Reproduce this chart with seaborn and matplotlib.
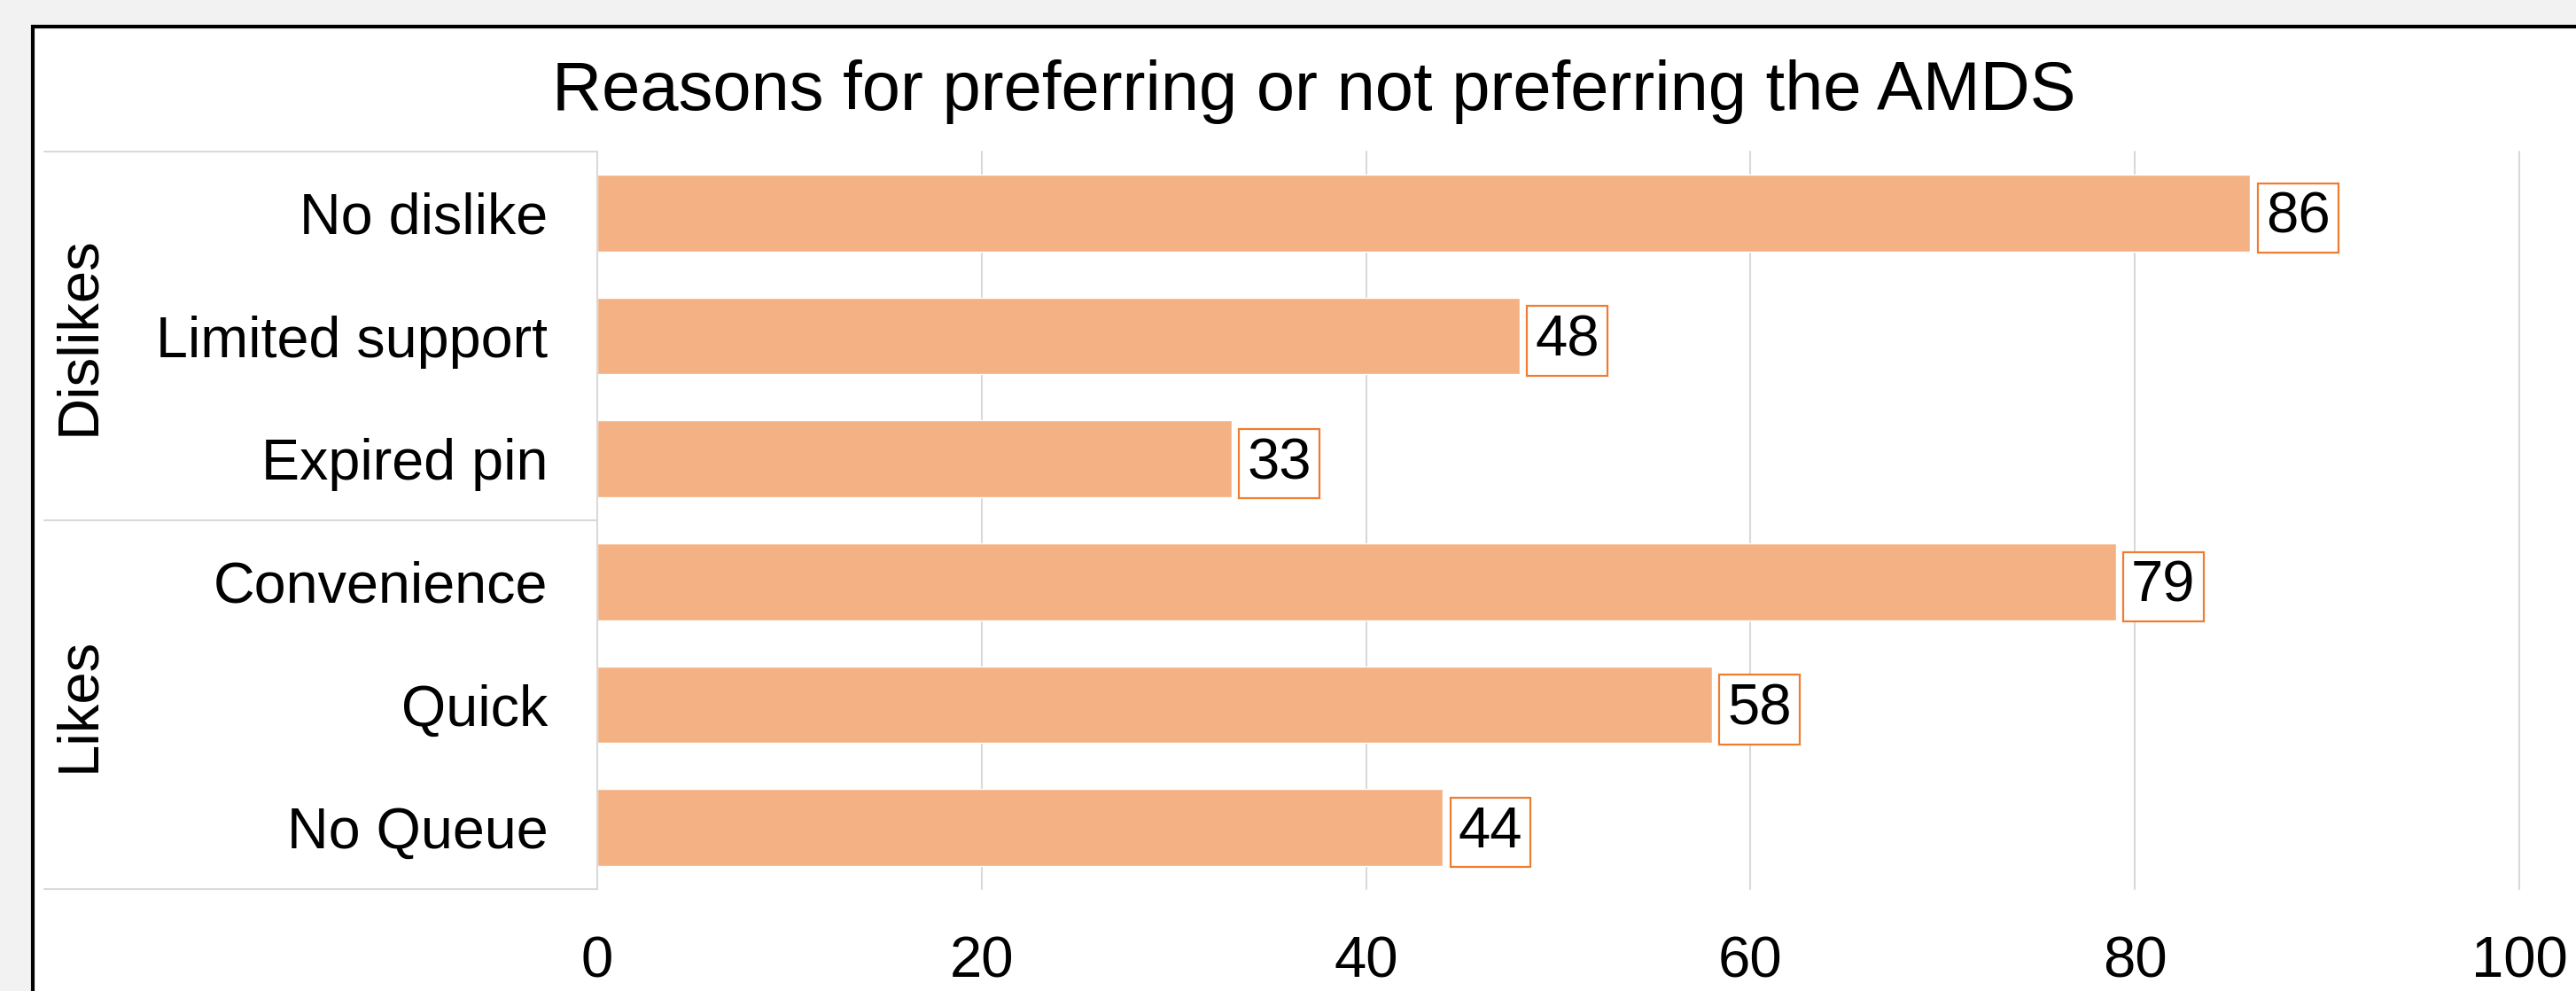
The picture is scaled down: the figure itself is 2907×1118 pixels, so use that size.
import numpy as np
import pandas as pd
import seaborn as sns
import matplotlib.pyplot as plt
from matplotlib.patches import Rectangle
from matplotlib.lines import Line2D
from matplotlib.transforms import blended_transform_factory

# data
reasons = ["No dislike", "Limited support", "Expired pin", "Convenience", "Quick", "No Queue"]
counts = [86, 48, 33, 79, 58, 44]
groups = ["Dislikes", "Dislikes", "Dislikes", "Likes", "Likes", "Likes"]
group_names = ["Dislikes", "Likes"]
x_ticks = [0, 20, 40, 60, 80, 100]

df = pd.DataFrame({"reason": reasons, "count": counts, "group": groups})

W, H = 2907, 1118
sns.set_theme(style="white")
plt.rcParams["font.family"] = ["Liberation Sans", "DejaVu Sans"]
plt.rcParams["text.color"] = "black"
plt.rcParams["xtick.color"] = "black"
plt.rcParams["ytick.color"] = "black"

fig = plt.figure(figsize=(W / 100, H / 100), dpi=100, facecolor="#f2f2f2")

# white panel with black border (top + left), behind everything
fig.patches.append(Rectangle((37 / W, -0.05), 1.2, 1 - 30 / H + 0.05, transform=fig.transFigure,
                             facecolor="white", edgecolor="black", lw=3, zorder=-10))

ax = fig.add_axes([674 / W, 1 - 1003 / H, (2843 - 674) / W, (1003 - 171) / H])
ax.set_facecolor("none")

sns.barplot(data=df, x="count", y="reason", orient="h", color="#f4b183", saturation=1,
            width=0.625, ax=ax, zorder=3)

ax.set_xlim(0, 100)
ax.set_ylim(5.5, -0.5)
ax.set_xticks(x_ticks)
for t in x_ticks[1:]:
    ax.axvline(t, color="#d9d9d9", lw=1.5, zorder=1, clip_on=False)
for s in ax.spines.values():
    s.set_visible(False)
ax.set_xlabel("")
ax.set_ylabel("")
ax.tick_params(axis="x", length=0, labelsize=47, pad=38)
ax.tick_params(axis="y", length=0, labelsize=46.5, pad=40)

# value labels in orange boxes
for i, v in enumerate(counts):
    ax.text(v + 0.8, i + 0.04, str(v), ha="left", va="center", fontsize=47, zorder=4,
            bbox=dict(boxstyle="square,pad=0.14", fc="white", ec="#ed7d31", lw=1.6))

# group table lines
trans = blended_transform_factory(fig.transFigure, ax.transData)
x_left = 50 / W
x_right = 674 / W
for yb in [-0.5, 2.5, 5.5]:
    fig.lines.append(Line2D([x_left, x_right], [yb, yb], transform=trans, color="#d9d9d9", lw=1.5))
fig.lines.append(Line2D([x_right, x_right], [-0.5, 5.5], transform=trans, color="#d9d9d9", lw=1.5))

for k, g in enumerate(group_names):
    ax.text(89 / W, 1 + 3 * k, g, transform=trans, rotation=90, ha="center", va="center", fontsize=47)

fig.text(1483 / W, 1 - 103 / H, "Reasons for preferring or not preferring the AMDS",
         ha="center", va="center", fontsize=56)

fig.savefig("out.png", dpi=100, facecolor=fig.get_facecolor())
